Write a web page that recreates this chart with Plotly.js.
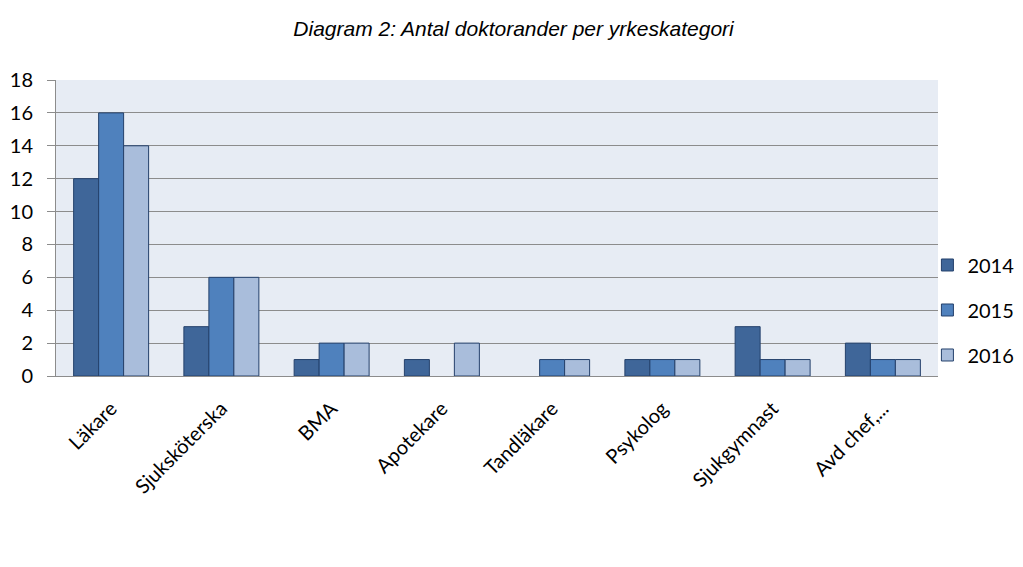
<!DOCTYPE html>
<html>
<head>
<meta charset="utf-8">
<script src="https://cdn.plot.ly/plotly-3.0.1.min.js"></script>
<style>html,body{margin:0;padding:0;background:#fff;}#chart{width:1023px;height:567px;}</style>
</head>
<body>
<div id="chart"></div>
<script>
const categories = ["Läkare", "Sjuksköterska", "BMA", "Apotekare", "Tandläkare", "Psykolog", "Sjukgymnast", "Avd chef,..."];
const years = ["2014", "2015", "2016"];
const values2014 = [12, 3, 1, 1, 0, 1, 3, 2];
const values2015 = [16, 6, 2, 0, 1, 1, 1, 1];
const values2016 = [14, 6, 2, 2, 1, 1, 1, 1];
const yTicks = [0, 2, 4, 6, 8, 10, 12, 14, 16, 18];

const colors = ["#3F6699", "#4F81BD", "#A9BDDB"];
const series = [values2014, values2015, values2016];

const traces = series.map((vals, i) => ({
  type: "bar",
  name: years[i],
  x: categories,
  y: vals,
  legendgroup: "g" + i,
  marker: {color: colors[i], line: {color: "#24406B", width: vals.map(v => v === 0 ? 0 : 1)}},
  hoverinfo: "x+y+name"
}));

const layout = {
  width: 1023, height: 567,
  margin: {l: 56, r: 85, t: 80, b: 191, autoexpand: false},
  paper_bgcolor: "#ffffff",
  plot_bgcolor: "#E7ECF4",
  barmode: "group",
  bargap: 0.32,
  bargroupgap: 0,
  font: {family: "Lato, 'Open Sans', sans-serif", color: "#000"},
  title: {
    text: "<i>Diagram 2: Antal doktorander per yrkeskategori</i>",
    font: {family: "Liberation Sans, Arial, sans-serif", size: 21, color: "#000"},
    x: 0.502, xanchor: "center", y: 0.95, yanchor: "middle"
  },
  xaxis: {
    type: "category",
    tickangle: -45,
    tickfont: {size: 20, family: "Lato, 'Open Sans', sans-serif"},
    ticklabelstandoff: 12,
    showgrid: false,
    showline: true, linecolor: "#8C8C8C", linewidth: 1,
    ticks: "", zeroline: false
  },
  yaxis: {
    range: [0, 18],
    tickvals: yTicks,
    tickfont: {size: 20, family: "Lato, 'Open Sans', sans-serif"},
    ticklabelstandoff: 10,
    showgrid: true, gridcolor: "#8C8C8C", gridwidth: 1.2,
    showline: true, linecolor: "#8C8C8C", linewidth: 1,
    ticks: "outside", ticklen: 8, tickcolor: "#8C8C8C",
    zeroline: false
  },
  legend: {
    x: 0.988, xanchor: "left", y: 0.223, yanchor: "middle",
    font: {size: 20, family: "Lato, 'Open Sans', sans-serif"},
    tracegroupgap: 16,
    itemwidth: 30,
    bgcolor: "rgba(0,0,0,0)"
  },
  showlegend: true
};

Plotly.newPlot("chart", traces, layout, {displayModeBar: false, staticPlot: true});
</script>
</body>
</html>
